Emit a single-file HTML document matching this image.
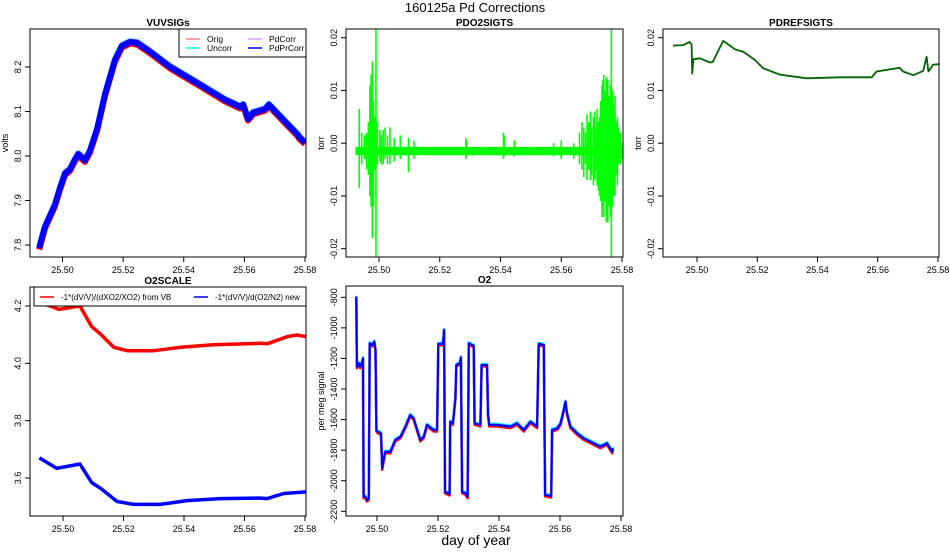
<!DOCTYPE html>
<html><head><meta charset="utf-8">
<style>
body{margin:0;background:#fff;width:950px;height:550px;overflow:hidden}
svg{font-family:"Liberation Sans",sans-serif}
</style></head>
<body>
<svg id="c" width="950" height="550" xmlns="http://www.w3.org/2000/svg">
<text x="475" y="12" text-anchor="middle" font-size="13">160125a   Pd Corrections</text>
<text x="476" y="545" text-anchor="middle" font-size="14">day of year</text>
</svg>
<script>
// ---- data ----
const vuvDays=[25.4923,25.4942,25.4975,25.4992,25.5008,25.5025,25.504,25.5052,25.5074,25.509,25.5114,25.514,25.5173,25.5196,25.5223,25.5246,25.5289,25.5355,25.5454,25.5536,25.5586,25.5596,25.5612,25.5629,25.5668,25.5681,25.5734,25.5777,25.578,25.58];
const vuvVolts=[7.793,7.84,7.89,7.928,7.96,7.97,7.99,8.004,7.99,8.01,8.06,8.137,8.215,8.247,8.256,8.254,8.234,8.2,8.16,8.126,8.11,8.115,8.083,8.097,8.105,8.115,8.077,8.047,8.043,8.03];
const pdo2BaseDays=[25.4924,25.5804];
const pdo2BaseHi=[-0.0008,-0.0008];
const pdo2BaseLo=[-0.0022,-0.0022];
const pdo2Days=[25.4935,25.4943,25.4952,25.4959,25.4965,25.497,25.4974,25.4978,25.4982,25.4986,25.499,25.4995,25.5003,25.5008,25.5014,25.502,25.5028,25.5036,25.505,25.507,25.5097,25.5115,25.5286,25.5288,25.541,25.5412,25.5445,25.5575,25.56,25.5641,25.566,25.5668,25.5674,25.568,25.5685,25.569,25.5696,25.57,25.5706,25.571,25.5714,25.5718,25.5722,25.5726,25.573,25.5734,25.5737,25.574,25.5744,25.5748,25.5753,25.5757,25.5761,25.5765,25.5769,25.5773,25.5777,25.5781,25.5785,25.5789,25.5795,25.58];
const pdo2Hi=[0.0065,0.002,0.0015,0.002,0.004,0.011,0.013,0.0155,0.008,0.005,0.025,0.004,0.0025,0.0015,0.0025,0.003,0.0015,0.003,0.001,0.0015,0.001,0.0005,0.001,0.0005,0.002,0.0015,0.0005,0.0,0.0005,0.0,0.002,0.004,0.003,0.002,0.0055,0.004,0.006,0.003,0.005,0.006,0.003,0.0065,0.004,0.005,0.008,0.011,0.012,0.013,0.01,0.0125,0.012,0.009,0.011,0.025,0.01,0.007,0.009,0.004,0.005,0.003,0.002,0.0];
const pdo2Lo=[-0.0085,-0.004,-0.003,-0.005,-0.006,-0.01,-0.012,-0.018,-0.012,-0.005,-0.025,-0.004,-0.0035,-0.004,-0.004,-0.003,-0.004,-0.004,-0.0035,-0.003,-0.0055,-0.003,-0.003,-0.0025,-0.003,-0.0025,-0.0025,-0.0025,-0.003,-0.003,-0.004,-0.005,-0.0065,-0.004,-0.007,-0.005,-0.007,-0.006,-0.008,-0.007,-0.005,-0.008,-0.009,-0.01,-0.011,-0.014,-0.012,-0.014,-0.011,-0.015,-0.015,-0.012,-0.014,-0.025,-0.012,-0.01,-0.01,-0.006,-0.008,-0.004,-0.004,-0.003];
const refDays=[25.492,25.4955,25.4975,25.4982,25.4984,25.4988,25.501,25.5043,25.5052,25.5087,25.5126,25.5154,25.5192,25.522,25.5275,25.5364,25.5474,25.558,25.5596,25.5673,25.5684,25.5718,25.5751,25.5762,25.5768,25.5784,25.5806];
const refTorr=[0.0185,0.0186,0.0192,0.0187,0.0132,0.0159,0.0161,0.0153,0.0154,0.0194,0.0178,0.0173,0.0158,0.0142,0.013,0.0123,0.0125,0.0125,0.0136,0.0143,0.0136,0.0129,0.0137,0.0164,0.0136,0.0149,0.015];
const scaleRedDays=[25.4925,25.4964,25.4986,25.5056,25.5095,25.5124,25.5168,25.5212,25.53,25.5388,25.5497,25.5653,25.5675,25.5741,25.5774,25.5805];
const scaleRed=[4.21,4.198,4.188,4.2,4.128,4.102,4.056,4.044,4.044,4.056,4.065,4.07,4.068,4.093,4.099,4.093];
const scaleBlueDays=[25.4922,25.4979,25.5012,25.5056,25.5095,25.5124,25.5179,25.5234,25.5322,25.541,25.552,25.5653,25.5675,25.573,25.5805];
const scaleBlue=[3.67,3.634,3.64,3.649,3.584,3.564,3.518,3.508,3.508,3.521,3.528,3.53,3.528,3.546,3.552];
const o2Days=[25.4932,25.4934,25.494,25.4945,25.4951,25.4954,25.4956,25.4962,25.4967,25.4973,25.4976,25.4984,25.4991,25.4995,25.4998,25.5002,25.5013,25.5017,25.5027,25.5044,25.506,25.5077,25.5093,25.5109,25.512,25.5142,25.5153,25.5164,25.5186,25.5197,25.5201,25.5216,25.522,25.5223,25.5238,25.524,25.5249,25.5257,25.526,25.5271,25.5275,25.5279,25.529,25.5297,25.5301,25.5317,25.532,25.5339,25.5343,25.5361,25.5364,25.5368,25.5393,25.5437,25.5459,25.5481,25.5503,25.5525,25.553,25.5547,25.5551,25.5571,25.5574,25.5591,25.5602,25.5612,25.5618,25.5623,25.5634,25.5656,25.5678,25.571,25.5732,25.5754,25.5771,25.5774];
const o2Vals=[-796,-1254,-1232,-1254,-1221,-1199,-2104,-2104,-2126,-2115,-1101,-1112,-1090,-1145,-1668,-1679,-1690,-1919,-1810,-1810,-1733,-1712,-1646,-1570,-1592,-1733,-1712,-1635,-1668,-1668,-1105,-1105,-1014,-2072,-2087,-1614,-1624,-1461,-1243,-1232,-1193,-2072,-2082,-2104,-1101,-1118,-1624,-1635,-1243,-1243,-1563,-1635,-1635,-1646,-1624,-1668,-1614,-1646,-1105,-1112,-2093,-2100,-1668,-1657,-1624,-1537,-1483,-1559,-1646,-1690,-1723,-1755,-1777,-1755,-1810,-1788];
const xTicks=[25.50,25.52,25.54,25.56,25.58];
const xTickLabels=["25.50","25.52","25.54","25.56","25.58"];

// ---- drawing ----
const NS="http://www.w3.org/2000/svg";
const svg=document.getElementById('c');
function mk(tag,attrs,parent){const e=document.createElementNS(NS,tag);for(const k in attrs)e.setAttribute(k,attrs[k]);(parent||svg).appendChild(e);return e;}
function panel(p){
  const g=mk('g',{});
  
  
  const [l,t,r,b]=p.box;
  const xs=d=>p.x50+(d-25.50)/0.08*(p.x58-p.x50);
  const ys=v=>p.ya[1]+(v-p.ya[0])/(p.yb[0]-p.ya[0])*(p.yb[1]-p.ya[1]);
  const cid='clip-'+p.name;
  const cp=mk('clipPath',{id:cid},g);mk('rect',{x:l,y:t,width:r-l,height:b-t},cp);
  const plot=mk('g',{'clip-path':'url(#'+cid+')'},g);
  
  
  p.draw(plot,xs,ys);
  const box=mk('rect',{x:l,y:t,width:r-l,height:b-t,fill:'none',stroke:'#000','stroke-width':1},g);
  
  
  const tt=mk('text',{x:(l+r)/2,y:t-3,'text-anchor':'middle','font-size':10,'font-weight':'bold'},g);tt.textContent=p.title;
  
  
  xTicks.forEach((d,i)=>{const x=xs(d);mk('line',{x1:x,x2:x,y1:b,y2:b+5,stroke:'#000'},g);
    const tx=mk('text',{x:x,y:b+16,'text-anchor':'middle','font-size':9},g);tx.textContent=xTickLabels[i];
    
    });
  p.yTicks.forEach((v,i)=>{const y=ys(v);mk('line',{x1:l-5,x2:l,y1:y,y2:y,stroke:'#000'},g);
    const tx=mk('text',{x:0,y:0,'text-anchor':'middle','font-size':9,transform:`translate(${l-9},${y}) rotate(-90)`},g);tx.textContent=p.yLabels[i];
    
    });
  if(p.ylab){const tx=mk('text',{x:0,y:0,'text-anchor':'middle','font-size':9,transform:`translate(${l-22},${(t+b)/2}) rotate(-90)`},g);tx.textContent=p.ylab;
    
    }
  return g;
}
function path(days,vals,xs,ys,off){return days.map((d,i)=>(i?'L':'M')+xs(d).toFixed(1)+','+(ys(vals[i])+(off||0)).toFixed(1)).join('');}
function line(parent,d,color,w,name){const e=mk('path',{d:d,fill:'none',stroke:color,'stroke-width':w,'stroke-linejoin':'round'},parent);
  
  return e;}

panel({name:'vuvsigs-panel',title:'VUVSIGs',box:[30,29,306,257],x50:62.5,x58:305,ya:[8.2,67],yb:[7.8,245],
  yTicks:[7.8,7.9,8.0,8.1,8.2],yLabels:['7.8','7.9','8.0','8.1','8.2'],ylab:'volts',
  draw:(g,xs,ys)=>{
    line(g,path(vuvDays,vuvVolts,xs,ys,1.5),'#ff0000',6,'orig-line');
    line(g,path(vuvDays,vuvVolts,xs,ys,-1),'#00ffff',6,'uncorr-line');
    line(g,path(vuvDays,vuvVolts,xs,ys,-0.5),'#a040ff',6,'pdcorr-line');
    line(g,path(vuvDays,vuvVolts,xs,ys,0),'#0000ff',6,'pdprcorr-line');
  }});
panel({name:'pdo2sigts-panel',title:'PDO2SIGTS',box:[346,29,623,257],x50:379,x58:622,ya:[0.02,37.7],yb:[-0.02,248.7],
  yTicks:[-0.02,-0.01,0,0.01,0.02],yLabels:['-0.02','-0.01','0.00','0.01','0.02'],ylab:'torr',
  draw:(g,xs,ys)=>{
    const up=pdo2BaseDays.map((d,i)=>xs(d).toFixed(1)+','+ys(pdo2BaseHi[i]).toFixed(1));
    const dn=pdo2BaseDays.map((d,i)=>xs(d).toFixed(1)+','+ys(pdo2BaseLo[i]).toFixed(1)).reverse();
    const e=mk('polygon',{points:up.concat(dn).join(' '),fill:'#00ff00',stroke:'#00ff00','stroke-width':1},g);
    
    
    pdo2Days.forEach((d,i)=>{
      const s=mk('line',{x1:xs(d),x2:xs(d),y1:ys(pdo2Hi[i]),y2:ys(pdo2Lo[i]),stroke:'#00ff00','stroke-width':1.6},g);
      
      
    });
  }});
panel({name:'pdrefsigts-panel',title:'PDREFSIGTS',box:[663,29,939,257],x50:697,x58:938,ya:[0.02,37.7],yb:[-0.02,248.7],
  yTicks:[-0.02,-0.01,0,0.01,0.02],yLabels:['-0.02','-0.01','0.00','0.01','0.02'],ylab:'torr',
  draw:(g,xs,ys)=>{line(g,path(refDays,refTorr,xs,ys),'#006400',1.8,'pdref-line');}});
panel({name:'o2scale-panel',title:'O2SCALE',box:[30,287,306,516],x50:63,x58:305,ya:[4.2,306],yb:[3.6,478],
  yTicks:[3.6,3.8,4.0,4.2],yLabels:['3.6','3.8','4.0','4.2'],ylab:'',
  draw:(g,xs,ys)=>{
    line(g,path(scaleRedDays,scaleRed,xs,ys),'#ff0000',3.5,'o2scale-vb-line');
    line(g,path(scaleBlueDays,scaleBlue,xs,ys),'#0000ff',3.5,'o2scale-new-line');
  }});
panel({name:'o2-panel',title:'O2',box:[346,286,623,516],x50:377,x58:621,ya:[-800,297.3],yb:[-2200,511.3],
  yTicks:[-2200,-2000,-1800,-1600,-1400,-1200,-1000,-800],yLabels:['-2200','-2000','-1800','-1600','-1400','-1200','-1000','-800'],ylab:'per meg signal',
  draw:(g,xs,ys)=>{
    line(g,path(o2Days,o2Vals,xs,ys,1.5),'#ff0000',2.5,'o2-orig-line');
    line(g,path(o2Days,o2Vals,xs,ys,-1),'#00ffff',2.5,'o2-uncorr-line');
    line(g,path(o2Days,o2Vals,xs,ys,0),'#8040ff',2.5,'o2-pdcorr-line');
    line(g,path(o2Days,o2Vals,xs,ys,0),'#0000ff',2,'o2-pdprcorr-line');
  }});

// legends
function legend(name,x,y,w,h,fs,items){
  const g=mk('g',{});
  
  
  mk('rect',{x:x,y:y,width:w,height:h,fill:'#fff',stroke:'#000'},g);
  items.forEach(it=>{mk('line',{x1:it.x,x2:it.x+14,y1:it.y,y2:it.y,stroke:it.c,'stroke-width':1.5},g);
    const t=mk('text',{x:it.x+21,y:it.y+3,'font-size':fs},g);t.textContent=it.t;
    
    });
}
legend('vuvsigs-legend',179,29,127,28,8.5,[{x:186,y:39,c:'#ff8080',t:'Orig'},{x:186,y:48,c:'#00ffff',t:'Uncorr'},{x:248,y:39,c:'#d8a0ff',t:'PdCorr'},{x:248,y:48,c:'#0000ff',t:'PdPrCorr'}]);
legend('o2scale-legend',34,287,272,19,8,[{x:40,y:297,c:'#ff0000',t:'-1*(dV/V)/(dXO2/XO2) from VB'},{x:194,y:297,c:'#0000ff',t:'-1*(dV/V)/d(O2/N2) new'}]);
</script>
</body></html>
